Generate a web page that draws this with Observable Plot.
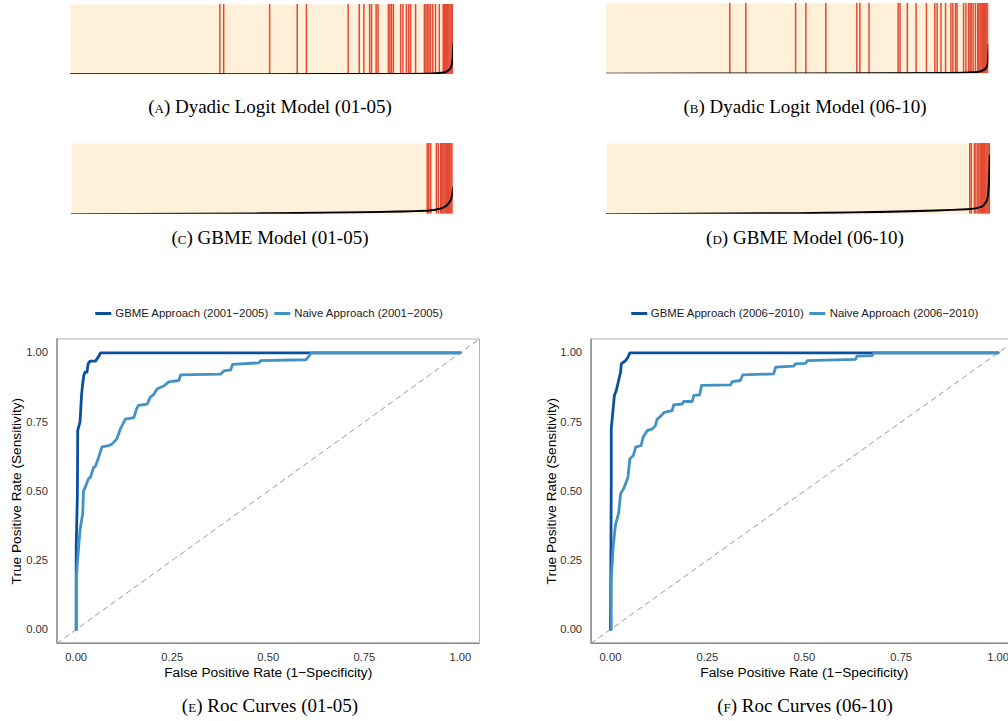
<!DOCTYPE html>
<html><head><meta charset="utf-8">
<script src="https://cdn.jsdelivr.net/npm/d3@7"></script>
<script src="https://cdn.jsdelivr.net/npm/@observablehq/plot@0.6"></script>
<style>
html,body{margin:0;padding:0;background:#fff;overflow:hidden;}
#root{position:relative;width:1008px;height:721px;overflow:hidden;}
.panel{position:absolute;}
.panel svg{display:block;max-width:none !important;}
.cap{position:absolute;font-family:"Liberation Serif",serif;font-size:19px;color:#000;white-space:nowrap;transform:translate(-50%,-50%);}
.sc{font-variant:small-caps;}
.legend{position:absolute;display:flex;align-items:center;font-family:"Liberation Sans",Arial,sans-serif;font-size:11.4px;color:#1a1a1a;white-space:nowrap;transform:translate(-50%,-50%);}
.sw{display:inline-block;width:16px;height:3px;margin-right:4px;}
.item{display:flex;align-items:center;margin-right:6px;}
</style></head><body><div id="root"></div>
<script>
// ---------- data: separation plots (event positions as fraction of sorted observations) ----------
const eventsA = [0.390,0.400,0.520,0.592,0.616,0.725,0.754,0.766,0.781,0.786,0.798,0.803,0.830,0.834,0.838,0.843,0.862,0.868,0.877,0.883,0.888,0.901,0.924,0.928,0.932,0.936,0.940,0.946,0.953,0.963,0.973,0.976,0.979,0.982,0.985,0.988,0.991,0.994,0.997,1.0];
const eventsB = [0.323,0.365,0.495,0.522,0.574,0.655,0.663,0.687,0.763,0.768,0.787,0.810,0.837,0.859,0.865,0.875,0.887,0.901,0.906,0.913,0.917,0.934,0.940,0.947,0.951,0.954,0.959,0.965,0.971,0.974,0.977,0.980,0.983,0.986,0.989,0.992,0.995,0.998];
const eventsC = [0.932,0.936,0.941,0.956,0.961,0.967,0.970,0.973,0.976,0.979,0.982,0.985,0.988,0.991,0.994,0.997,1.0];
const eventsD = [0.946,0.950,0.958,0.962,0.967,0.970,0.973,0.976,0.979,0.982,0.985,0.988,0.991,0.994,0.997,1.0];
// predicted probability curves (rank fraction, probability)
const curveA = [[0,0.002],[0.5,0.004],[0.85,0.008],[0.932,0.012],[0.976,0.03],[0.991,0.08],[0.997,0.18],[1,0.44]];
const curveB = [[0,0.002],[0.5,0.004],[0.9,0.01],[0.97,0.025],[0.991,0.07],[0.997,0.14],[1,0.41]];
const curveC = [[0,0.0],[0.5,0.012],[0.932,0.05],[0.967,0.08],[0.984,0.13],[0.995,0.22],[1,0.38]];
const curveD = [[0,0.0],[0.5,0.015],[0.939,0.07],[0.974,0.10],[0.991,0.20],[0.996,0.45],[0.998,0.83]];

// ---------- data: ROC curves (false positive rate, true positive rate) ----------
const gbme0105 = [[0,0],[0,0.3],[0.003,0.48],[0.004,0.72],[0.01,0.75],[0.014,0.85],[0.017,0.89],[0.02,0.92],[0.023,0.93],[0.028,0.93],[0.031,0.96],[0.036,0.97],[0.05,0.97],[0.055,0.98],[0.06,0.99],[0.063,1],[1,1]];
const naive0105 = [[0,0],[0,0.17],[0.003,0.24],[0.01,0.36],[0.017,0.42],[0.019,0.50],[0.025,0.52],[0.032,0.545],[0.037,0.55],[0.045,0.585],[0.05,0.59],[0.058,0.62],[0.067,0.66],[0.085,0.665],[0.093,0.67],[0.1,0.68],[0.106,0.69],[0.115,0.725],[0.128,0.76],[0.15,0.766],[0.158,0.80],[0.162,0.81],[0.185,0.815],[0.193,0.84],[0.202,0.85],[0.211,0.87],[0.228,0.88],[0.241,0.895],[0.267,0.9],[0.272,0.92],[0.376,0.923],[0.385,0.935],[0.402,0.938],[0.407,0.958],[0.476,0.964],[0.48,0.972],[0.598,0.975],[0.607,0.989],[0.611,1.0],[1,1]];
const gbme0610 = [[0,0],[0.001,0.24],[0.002,0.54],[0.002,0.725],[0.004,0.755],[0.007,0.80],[0.01,0.846],[0.015,0.864],[0.021,0.90],[0.026,0.93],[0.028,0.96],[0.033,0.966],[0.039,0.972],[0.045,0.984],[0.05,1.0],[1,1]];
const naive0610 = [[0.002,0],[0.002,0.18],[0.007,0.30],[0.013,0.38],[0.021,0.42],[0.026,0.49],[0.034,0.51],[0.040,0.53],[0.045,0.55],[0.05,0.617],[0.059,0.629],[0.065,0.659],[0.079,0.665],[0.084,0.695],[0.095,0.719],[0.108,0.725],[0.116,0.737],[0.12,0.759],[0.131,0.773],[0.139,0.785],[0.159,0.791],[0.163,0.812],[0.185,0.815],[0.189,0.824],[0.211,0.824],[0.215,0.846],[0.23,0.848],[0.235,0.882],[0.31,0.884],[0.314,0.896],[0.335,0.9],[0.341,0.92],[0.421,0.924],[0.426,0.948],[0.473,0.952],[0.477,0.96],[0.503,0.962],[0.508,0.972],[0.632,0.976],[0.636,0.988],[0.675,0.99],[0.679,1.0],[1,1]];

const rocTicks = [0, 0.25, 0.5, 0.75, 1];
const rocDomain = [-0.05, 1.05];
const legend0105 = ["GBME Approach (2001\u22122005)", "Naive Approach (2001\u22122005)"];
const legend0610 = ["GBME Approach (2006\u22122010)", "Naive Approach (2006\u22122010)"];
const xTitle = "False Positive Rate (1\u2212Specificity)";
const yTitle = "True Positive Rate (Sensitivity)";

const beige = "#fef0d9", red = "#e34a33", dark = "#08519c", light = "#4292c6";
const root = document.getElementById("root");

function place(el, left, top, width, height) {
  const d = document.createElement("div");
  d.className = "panel";
  d.style.left = left + "px"; d.style.top = top + "px";
  d.style.width = width + "px"; d.style.height = height + "px";
  el.style.maxWidth = "none";
  d.appendChild(el); root.appendChild(d);
}

function sepPlot(events, curve, o) {
  const p = Plot.plot({
    width: o.width, height: o.height,
    marginLeft: o.ml, marginRight: o.mr, marginTop: o.mt, marginBottom: o.mb,
    x: {domain: [0, 1], axis: null},
    y: {domain: [0, 1], axis: null},
    marks: [
      Plot.frame({fill: beige, stroke: null}),
      Plot.ruleX(events, {x: d => d, stroke: red, strokeWidth: 1.5, clip: true}),
      Plot.line(curve, {x: d => d[0], y: d => d[1], stroke: "#000", strokeWidth: 2, curve: "monotone-x", clip: true})
    ]
  });
  place(p, o.left, o.top, o.width, o.height);
}

function rocPlot(gbme, naive, o) {
  const fmt = d3.format(".2f");
  const p = Plot.plot({
    width: o.width, height: o.height,
    marginLeft: o.ml, marginRight: o.mr, marginTop: o.mt, marginBottom: o.mb,
    style: {fontFamily: "'Liberation Sans', Arial, sans-serif", fontSize: "11.2px", color: "#333", background: "#fff"},
    x: {domain: rocDomain, ticks: rocTicks, tickFormat: fmt, tickSize: 0, tickPadding: 10, label: null},
    y: {domain: rocDomain, ticks: rocTicks, tickFormat: fmt, tickSize: 0, tickPadding: 9, label: null},
    marks: [
      Plot.frame({stroke: "#b3b3b3", strokeWidth: 1}),
      Plot.ruleX([rocDomain[0]], {stroke: "#888", strokeWidth: 1.4}),
      Plot.ruleY([rocDomain[0]], {stroke: "#888", strokeWidth: 1.4}),
      Plot.line(rocDomain.map(v => [v, v]), {stroke: "#9a9a9a", strokeWidth: 1, strokeDasharray: "5,4.5"}),
      Plot.line(gbme, {stroke: dark, strokeWidth: 2.8, strokeLinejoin: "round"}),
      Plot.line(naive, {stroke: light, strokeWidth: 2.8, strokeLinejoin: "round"}),
      Plot.text([xTitle], {frameAnchor: "bottom", dy: 33.5, fontSize: 13.7, fill: "#000", textAnchor: "middle"}),
      Plot.text([yTitle], {frameAnchor: "left", rotate: -90, dx: o.ydx, fontSize: 13.7, fill: "#000", textAnchor: "middle"})
    ]
  });
  place(p, o.left, o.top, o.width, o.height);
}

function legend(labels, cx, cy) {
  const d = document.createElement("div");
  d.className = "legend"; d.style.left = cx + "px"; d.style.top = cy + "px";
  [dark, light].forEach((c, i) => {
    const it = document.createElement("div"); it.className = "item";
    const sw = document.createElement("span"); sw.className = "sw"; sw.style.background = c;
    const t = document.createElement("span"); t.textContent = labels[i];
    it.appendChild(sw); it.appendChild(t); d.appendChild(it);
  });
  root.appendChild(d);
}

function caption(letter, text, cx, cy) {
  const d = document.createElement("div");
  d.className = "cap"; d.style.left = cx + "px"; d.style.top = cy + "px";
  d.innerHTML = `(<span class="sc">${letter}</span>) ${text}`;
  root.appendChild(d);
}

sepPlot(eventsA, curveA, {left: 60, top: 0, width: 400, height: 80, ml: 10, mr: 7, mt: 4, mb: 6});
sepPlot(eventsB, curveB, {left: 600, top: 0, width: 400, height: 80, ml: 5.7, mr: 11.7, mt: 2.7, mb: 6.7});
sepPlot(eventsC, curveC, {left: 60, top: 135, width: 400, height: 85, ml: 11, mr: 7.3, mt: 8, mb: 6.3});
sepPlot(eventsD, curveD, {left: 600, top: 135, width: 400, height: 85, ml: 6, mr: 10, mt: 8, mb: 6.3});

rocPlot(gbme0105, naive0105, {left: 0, top: 330, width: 490, height: 360, ml: 56.5, mr: 11, mt: 8.5, mb: 47.2, ydx: -40.5});
rocPlot(gbme0610, naive0610, {left: 534, top: 330, width: 494, height: 360, ml: 56.6, mr: 11, mt: 8.5, mb: 47.2, ydx: -39});

legend(legend0105, 272, 313);
legend(legend0610, 807.5, 313);

caption("a", "Dyadic Logit Model (01-05)", 270, 107);
caption("b", "Dyadic Logit Model (06-10)", 805, 107);
caption("c", "GBME Model (01-05)", 270, 238);
caption("d", "GBME Model (06-10)", 805, 238);
caption("e", "Roc Curves (01-05)", 270, 706);
caption("f", "Roc Curves (06-10)", 805, 706);
</script></body></html>
